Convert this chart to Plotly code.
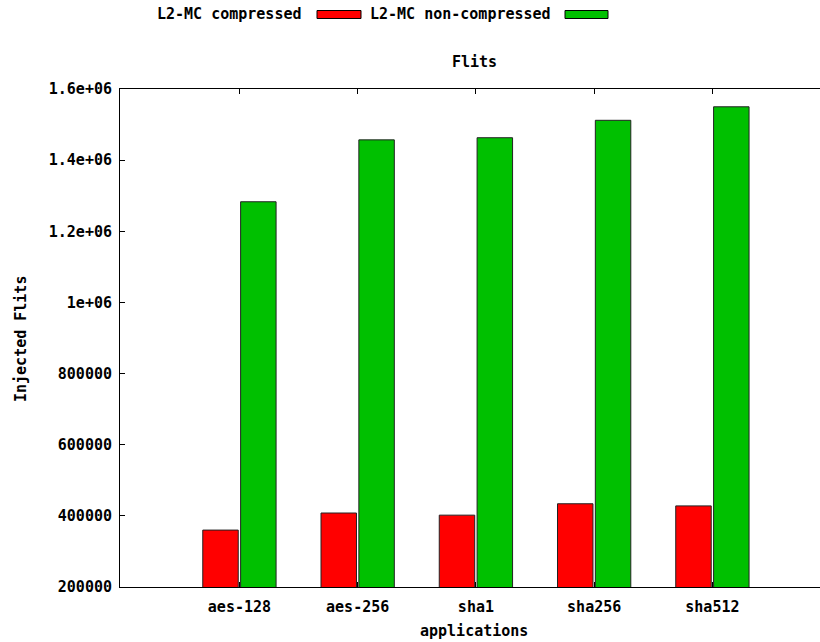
import plotly.graph_objects as go

# Benchmark applications and injected flit counts per configuration
applications = ["aes-128", "aes-256", "sha1", "sha256", "sha512"]
series_names = ["L2-MC compressed", "L2-MC non-compressed"]
compressed = [360000, 408000, 402000, 434000, 428000]
non_compressed = [1283000, 1457000, 1463000, 1512000, 1550000]
y_ticks = [200000, 400000, 600000, 800000, 1000000, 1200000, 1400000, 1600000]
y_tick_labels = ["200000", "400000", "600000", "800000", "1e+06", "1.2e+06", "1.4e+06", "1.6e+06"]

RED = "#ff0000"
GREEN = "#00c000"
FONT = dict(family="DejaVu Sans Mono, monospace", size=15, color="black", weight="bold")

W, H = 820, 642
ML, MR, MT, MB = 120, 0, 89, 55
PW, PH = W - ML - MR, H - MT - MB


def px_x(px):
    return (px - ML) / PW


def px_y(py):
    return (H - MB - py) / PH


x_pos = list(range(len(applications)))

fig = go.Figure()
fig.add_trace(go.Bar(
    x=x_pos, y=compressed, name=series_names[0],
    width=0.30, offset=-0.31,
    marker=dict(color=RED, line=dict(color="#222222", width=1)),
))
fig.add_trace(go.Bar(
    x=x_pos, y=non_compressed, name=series_names[1],
    width=0.30, offset=0.01,
    marker=dict(color=GREEN, line=dict(color="#222222", width=1)),
))

# Key drawn above the plot: label first, then colour box
key_entries = [
    (series_names[0], RED, 304, 317, 361),
    (series_names[1], GREEN, 553, 565, 608),
]
annotations = []
shapes = []
for name, color, text_right, box_l, box_r in key_entries:
    annotations.append(dict(
        text=name, xref="paper", yref="paper",
        x=px_x(text_right), y=px_y(14.5), xanchor="right", yanchor="middle",
        showarrow=False, font=FONT,
    ))
    shapes.append(dict(
        type="rect", xref="paper", yref="paper",
        x0=px_x(box_l), x1=px_x(box_r), y0=px_y(18.5), y1=px_y(10.5),
        fillcolor=color, line=dict(color="black", width=1),
    ))

annotations += [
    dict(text="Flits", xref="paper", yref="paper", x=px_x(474.5), y=px_y(62),
         xanchor="center", yanchor="middle", showarrow=False, font=FONT),
    dict(text="applications", xref="paper", yref="paper", x=px_x(474), y=px_y(631),
         xanchor="center", yanchor="middle", showarrow=False, font=FONT),
    dict(text="Injected Flits", xref="paper", yref="paper", x=px_x(21), y=px_y(339),
         xanchor="center", yanchor="middle", textangle=-90, showarrow=False, font=FONT),
]

fig.update_layout(
    width=W, height=H,
    margin=dict(l=ML, r=MR, t=MT, b=MB, pad=0),
    paper_bgcolor="white", plot_bgcolor="white",
    barmode="overlay", showlegend=False,
    font=FONT,
    annotations=annotations, shapes=shapes,
    xaxis=dict(
        range=[-1.01, 4.91], tickmode="array", tickvals=x_pos, ticktext=applications,
        showline=True, linecolor="black", linewidth=1, mirror="ticks",
        ticks="inside", ticklen=5, tickcolor="black", tickwidth=1,
        showgrid=False, zeroline=False, ticklabelstandoff=6,
    ),
    yaxis=dict(
        range=[200000, 1600000], tickmode="array", tickvals=y_ticks, ticktext=y_tick_labels,
        showline=True, linecolor="black", linewidth=1, mirror=False,
        ticks="inside", ticklen=5, tickcolor="black", tickwidth=1,
        showgrid=False, zeroline=False, ticklabelstandoff=4,
    ),
)

fig.write_html("out.html")
